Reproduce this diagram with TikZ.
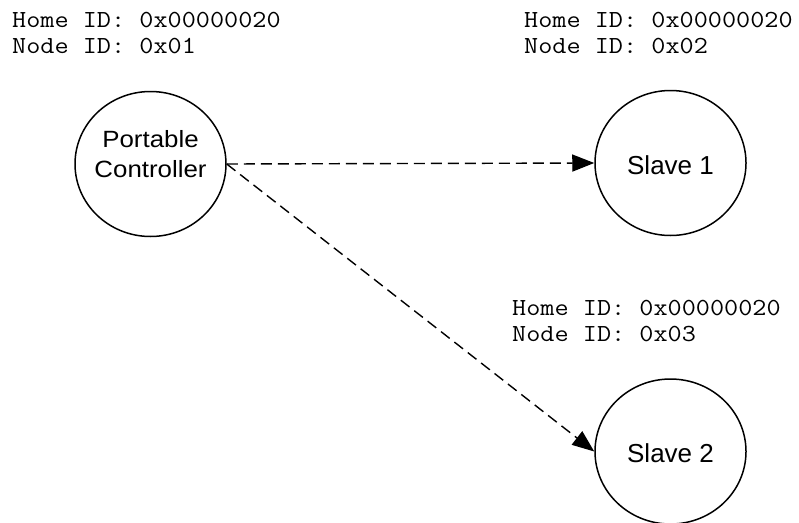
\documentclass[tikz,border=0pt]{standalone}
\usepackage{fontspec}
\newfontfamily\courfont[FakeStretch=1.12]{Latin Modern Mono}
\newfontfamily\labfont[FakeStretch=1.1]{Liberation Sans}
\newfontfamily\slavefont{Liberation Sans}
\usetikzlibrary{shapes.geometric,arrows.meta}
\begin{document}
\begin{tikzpicture}[x=1pt,y=-1pt,
  dev/.style={ellipse,draw=black,line width=1.5pt,minimum width=151pt,minimum height=145pt,inner sep=0pt},
  pctext/.style={anchor=base,inner sep=0pt,font=\labfont\fontsize{23.5}{28}\selectfont},
  sltext/.style={anchor=base,inner sep=0pt,font=\slavefont\fontsize{26}{30}\selectfont},
  idtext/.style={anchor=base west,inner sep=0pt,font=\courfont\fontsize{24.5}{26}\selectfont},
  link/.style={line width=1.4pt,dash pattern=on 11pt off 6pt,-{Triangle[length=22pt,width=17pt]}}]
\useasboundingbox (0,0) rectangle (799,522);
\node[dev] (pc) at (150.5,164) {};
\node[dev] (s1) at (670.5,163) {};
\node[dev] (s2) at (670.5,451.5) {};
\node[pctext] (pca) at ([yshift=16.3pt]pc.center) {Portable};
\node[pctext] (pcb) at ([yshift=-13.3pt]pc.center) {Controller};
\node[sltext] (s1t) at ([yshift=-11pt]s1.center) {Slave 1};
\node[sltext] (s2t) at ([yshift=-10.5pt]s2.center) {Slave 2};
\node[idtext] (h1) at (12,27) {Home ID: 0x00000020};
\node[idtext] (n1) at (12,53) {Node ID: 0x01};
\node[idtext] (h2) at (524,27) {Home ID: 0x00000020};
\node[idtext] (n2) at (524,53) {Node ID: 0x02};
\node[idtext] (h3) at (512,315) {Home ID: 0x00000020};
\node[idtext] (n3) at (512,341.5) {Node ID: 0x03};
\draw[link] (pc.east) -- (s1.west);
\draw[link] (pc.east) -- (s2.west);
\end{tikzpicture}
\end{document}
